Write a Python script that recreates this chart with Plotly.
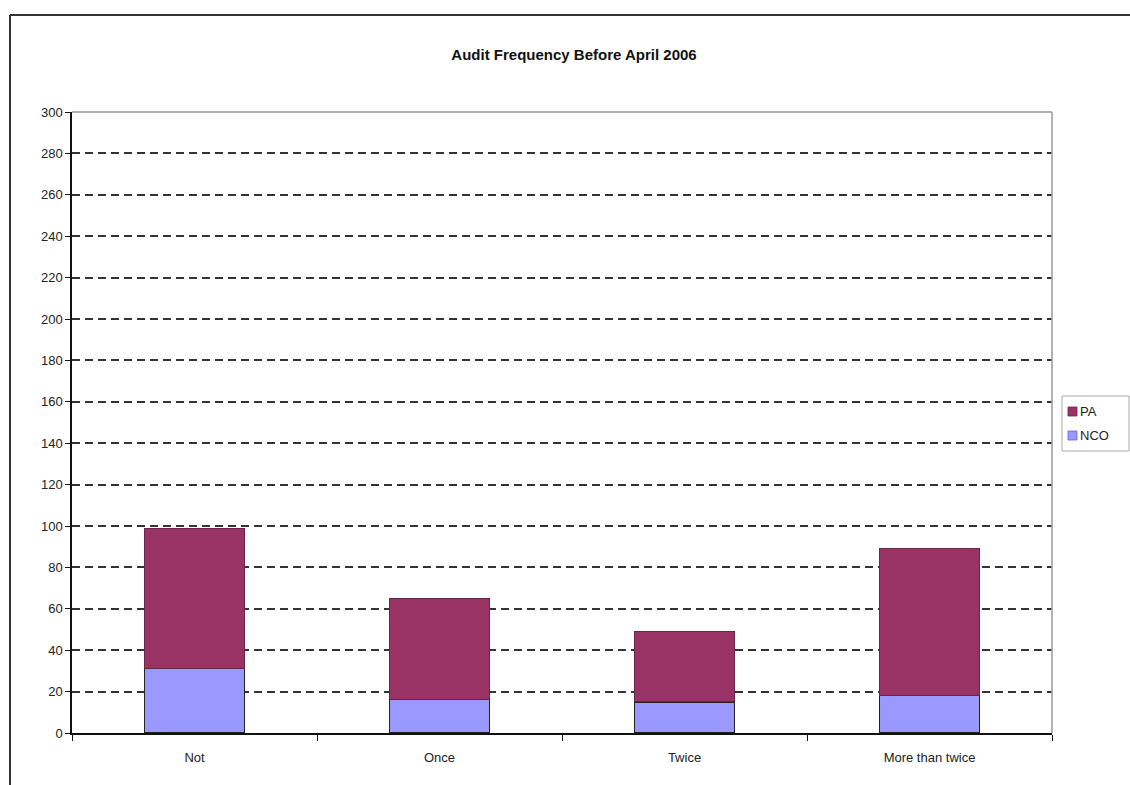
import plotly.graph_objects as go

categories = ["Not", "Once", "Twice", "More than twice"]
nco_values = [31, 16, 15, 18]
pa_values = [68, 49, 34, 71]
y_ticks = list(range(0, 301, 20))
series_names = ["PA", "NCO"]
pa_color = "#993366"
nco_color = "#9999FF"

# plot area in pixels (for placing decorations in paper coordinates)
L, R, T, B = 72, 1052, 112, 733
PW, PH = R - L, B - T


def px(x):
    return (x - L) / PW


def py(y):
    return (B - y) / PH


fig = go.Figure()
fig.add_trace(go.Bar(
    name="NCO", x=categories, y=nco_values, showlegend=False,
    marker=dict(color=nco_color, line=dict(color="#222222", width=1.2)),
))
fig.add_trace(go.Bar(
    name="PA", x=categories, y=pa_values, showlegend=False,
    marker=dict(color=pa_color, line=dict(color="#6b2347", width=1)),
))

shapes = [
    # plot area top/right border
    dict(type="line", xref="paper", yref="paper", x0=0, x1=1, y0=1, y1=1,
         line=dict(color="#999999", width=1.5)),
    dict(type="line", xref="paper", yref="paper", x0=1, x1=1, y0=0, y1=1,
         line=dict(color="#999999", width=1.5)),
    # outer chart frame
    dict(type="line", xref="paper", yref="paper",
         x0=px(10), x1=px(10), y0=py(785), y1=py(15),
         line=dict(color="#333333", width=2)),
    dict(type="line", xref="paper", yref="paper",
         x0=px(10), x1=px(1130), y0=py(15), y1=py(15),
         line=dict(color="#333333", width=2)),
    # legend box
    dict(type="rect", xref="paper", yref="paper",
         x0=px(1062), x1=px(1129), y0=py(451), y1=py(396),
         line=dict(color="#aaaaaa", width=1), fillcolor="white"),
    # legend swatches
    dict(type="rect", xref="paper", yref="paper",
         x0=px(1068), x1=px(1077), y0=py(416), y1=py(407),
         line=dict(color="#6b2347", width=0.8), fillcolor=pa_color),
    dict(type="rect", xref="paper", yref="paper",
         x0=px(1068), x1=px(1077), y0=py(440), y1=py(431),
         line=dict(color="#6666cc", width=0.8), fillcolor=nco_color),
]

annotations = [
    dict(text=series_names[0], xref="paper", yref="paper", x=px(1078), y=py(411.5),
         xanchor="left", yanchor="middle", showarrow=False,
         font=dict(size=13, color="#222222")),
    dict(text=series_names[1], xref="paper", yref="paper", x=px(1078), y=py(435.5),
         xanchor="left", yanchor="middle", showarrow=False,
         font=dict(size=13, color="#222222")),
]

fig.update_layout(
    width=1130, height=785,
    barmode="stack", bargap=0.595,
    plot_bgcolor="white", paper_bgcolor="white",
    margin=dict(l=L, r=1130 - R, t=T, b=785 - B, autoexpand=False),
    font=dict(family="Liberation Sans, Arial, sans-serif", size=13, color="#222222"),
    title=dict(
        text="<b>Audit Frequency Before April 2006</b>",
        x=574 / 1130, xanchor="center", y=1 - 55 / 785, yanchor="middle",
        font=dict(size=15, color="#111111"),
    ),
    showlegend=False,
    xaxis=dict(
        showline=True, linecolor="#111111", linewidth=1.5,
        ticks="outside", ticklen=6, tickcolor="#111111", tickson="boundaries",
        showgrid=False, mirror=False,
        tickfont=dict(size=13), ticklabelstandoff=12,
    ),
    yaxis=dict(
        range=[0, 300], tickvals=y_ticks,
        showline=True, linecolor="#111111", linewidth=1.5,
        ticks="outside", ticklen=5, tickcolor="#111111",
        showgrid=True, gridcolor="#333333", gridwidth=2, griddash="8px,5px",
        zeroline=False,
        tickfont=dict(size=13),
    ),
    shapes=shapes,
    annotations=annotations,
)

fig.write_html(
    "out.html",
    config={"displayModeBar": False},
    post_script="document.body.style.margin='0';document.body.style.overflow='hidden';",
)
